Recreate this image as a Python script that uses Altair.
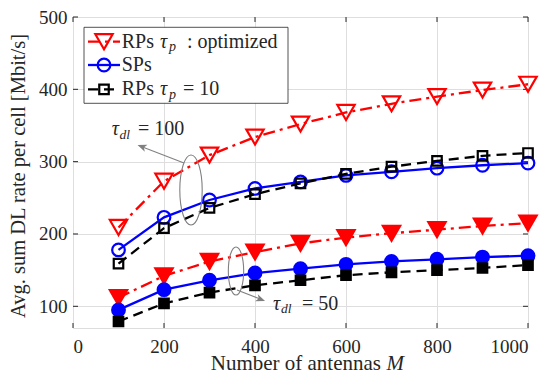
import altair as alt
import pandas as pd

# ---------------- data ----------------
M = [100, 200, 300, 400, 500, 600, 700, 800, 900, 1000]
rp_opt_100 = [209, 273, 309, 334, 352, 368, 380, 390, 399, 407]
sp_100 = [178, 223, 247, 263, 272, 281, 286, 291, 295, 298]
rp10_100 = [159, 208, 236, 255, 270, 283, 293, 301, 308, 312]
rp_opt_50 = [112, 142, 162, 175, 187, 195, 201, 206, 211, 215]
sp_50 = [95, 123, 136, 146, 152, 158, 162, 165, 168, 170]
rp10_50 = [79, 104, 119, 129, 136, 143, 147, 150, 153, 157]

x_ticks = [0, 200, 400, 600, 800, 1000]
y_ticks = [100, 200, 300, 400, 500]

x_title = "Number of antennas"
x_title_var = "M"
y_title = "Avg. sum DL rate per cell [Mbit/s]"
leg_rp = "RPs"
leg_sp = "SPs"
leg_opt = ": optimized"
leg_10 = "= 10"
ann_100 = "= 100"
ann_50 = "= 50"

# ---------------- style ----------------
FONT = "Liberation Serif"
AX = "#262626"
GRAY = "#808080"
RED = "#ff0000"
BLUE = "#0000ff"
BLACK = "#000000"
W, H = 455, 311

x_scale = alt.Scale(domain=[0, 1000], nice=False)
y_scale = alt.Scale(domain=[70, 500], nice=False)
x_axis = alt.Axis(values=x_ticks, format="d", title=None, grid=True, ticks=False, tickSize=0,
                  domain=False, labelFont=FONT, labelFontSize=19, labelColor=AX, labelPadding=9,
                  gridColor="#dedede", gridWidth=1)
y_axis = alt.Axis(values=y_ticks, format="d", title=None, grid=True, ticks=False, tickSize=0,
                  domain=False, labelFont=FONT, labelFontSize=19, labelColor=AX, labelPadding=6,
                  gridColor="#dedede", gridWidth=1)

X = lambda f: alt.X(f, scale=x_scale, axis=x_axis)
Y = lambda f: alt.Y(f, scale=y_scale, axis=y_axis)

one = pd.DataFrame({"_": [0]})


def series(vals, color, dash, shape, filled, size):
    df = pd.DataFrame({"M": M, "v": vals})
    base = alt.Chart(df).encode(x=X("M:Q"), y=Y("v:Q"))
    lkw = dict(color=color, strokeWidth=2.3)
    if dash:
        lkw["strokeDash"] = dash
    line = base.mark_line(**lkw)
    pkw = dict(shape=shape, filled=filled, size=size, strokeWidth=2.2, opacity=1, stroke=color)
    if filled:
        pkw["fill"] = color
    pts = base.mark_point(**pkw)
    return [line, pts]


DASHDOT = [12, 5, 3, 5]
DASH = [10, 6]

layers = []

# inward ticks on all four sides
ydf = pd.DataFrame({"t": y_ticks})
xdf = pd.DataFrame({"t": x_ticks})
layers.append(alt.Chart(ydf).mark_rule(color=AX, strokeWidth=1).encode(
    y=Y("t:Q"), x=alt.value(0), x2=alt.value(5)))
layers.append(alt.Chart(ydf).mark_rule(color=AX, strokeWidth=1).encode(
    y=Y("t:Q"), x=alt.value(W - 5), x2=alt.value(W)))
layers.append(alt.Chart(xdf).mark_rule(color=AX, strokeWidth=1).encode(
    x=X("t:Q"), y=alt.value(H - 5), y2=alt.value(H)))
layers.append(alt.Chart(xdf).mark_rule(color=AX, strokeWidth=1).encode(
    x=X("t:Q"), y=alt.value(0), y2=alt.value(5)))

# series
layers += series(rp_opt_100, RED, DASHDOT, "triangle-down", False, 300)
layers += series(sp_100, BLUE, None, "circle", False, 160)
layers += series(rp10_100, BLACK, DASH, "square", False, 90)
layers += series(rp_opt_50, RED, DASHDOT, "triangle-down", True, 300)
layers += series(sp_50, BLUE, None, "circle", True, 160)
layers += series(rp10_50, BLACK, DASH, "square", True, 90)

# ellipses
ELL = "M -0.32 0 A 0.32 1 0 1 1 0.32 0 A 0.32 1 0 1 1 -0.32 0 Z"
ARW = "M 0 -1 L 0.75 0.85 L 0 0.35 L -0.75 0.85 Z"
layers.append(alt.Chart(one).mark_point(shape=ELL, size=4900, stroke=GRAY, strokeWidth=1.1,
                                        filled=False, opacity=1).encode(
    x=alt.value(118), y=alt.value(173)))
layers.append(alt.Chart(one).mark_point(shape=ELL, size=2304, stroke=GRAY, strokeWidth=1.1,
                                        filled=False, opacity=1).encode(
    x=alt.value(163), y=alt.value(254)))
# arrows
layers.append(alt.Chart(one).mark_rule(color=GRAY, strokeWidth=1.1).encode(
    x=alt.value(111), y=alt.value(146), x2=alt.value(69.5), y2=alt.value(130)))
layers.append(alt.Chart(one).mark_point(shape=ARW, size=100, angle=291, filled=True,
                                        fill=GRAY, opacity=1).encode(
    x=alt.value(69.2), y=alt.value(129.8)))
layers.append(alt.Chart(one).mark_rule(color=GRAY, strokeWidth=1.1).encode(
    x=alt.value(164), y=alt.value(273), x2=alt.value(187), y2=alt.value(282)))
layers.append(alt.Chart(one).mark_point(shape=ARW, size=100, angle=111, filled=True,
                                        fill=GRAY, opacity=1).encode(
    x=alt.value(187.4), y=alt.value(282.2)))


def txt(text, x, y, size=18, style="normal", align="left", baseline="middle", color=AX, angle=0):
    kw = dict(text=text, font=FONT, fontSize=size, fontStyle=style, align=align,
              baseline=baseline, color=color)
    if angle:
        kw["angle"] = angle
    return alt.Chart(one).mark_text(**kw).encode(x=alt.value(x), y=alt.value(y))


# annotation texts
layers.append(txt("τ", 38.7, 112, 20, "italic"))
layers.append(txt("dl", 46.5, 118, 13.5, "italic"))
layers.append(txt(ann_100, 65, 112, 20))
layers.append(txt("τ", 200, 286.5, 20, "italic"))
layers.append(txt("dl", 208, 292, 13.5, "italic"))
layers.append(txt(ann_50, 229, 286.5, 20))

# legend
layers.append(alt.Chart(one).mark_rect(fill="white", stroke=AX, strokeWidth=0.8).encode(
    x=alt.value(11), x2=alt.value(215), y=alt.value(10.3), y2=alt.value(86.3)))
rows = [(24.7, RED, DASHDOT, "triangle-down", 300),
        (48, BLUE, None, "circle", 160),
        (72.3, BLACK, DASH, "square", 90)]
for yy, col, dash, shp, sz in rows:
    rkw = dict(color=col, strokeWidth=2.3)
    if dash:
        rkw["strokeDash"] = dash
    layers.append(alt.Chart(one).mark_rule(**rkw).encode(
        x=alt.value(15), x2=alt.value(47), y=alt.value(yy), y2=alt.value(yy)))
    layers.append(alt.Chart(one).mark_point(shape=shp, size=sz, filled=False, stroke=col,
                                            strokeWidth=2.2, opacity=1).encode(
        x=alt.value(31), y=alt.value(yy)))
layers.append(txt(leg_rp, 48.7, 24.7, 20))
layers.append(txt("τ", 87, 24.7, 20, "italic"))
layers.append(txt("p", 96, 30, 14, "italic"))
layers.append(txt(leg_opt, 114, 24.7, 20))
layers.append(txt(leg_sp, 48.7, 48, 20))
layers.append(txt(leg_rp, 48.7, 72.3, 20))
layers.append(txt("τ", 87, 72.3, 20, "italic"))
layers.append(txt("p", 96, 77.6, 14, "italic"))
layers.append(txt(leg_10, 110, 72.3, 20))

# axis titles
layers.append(txt(x_title, 308, 353, 21, align="right", baseline="alphabetic"))
layers.append(txt(x_title_var, 313.5, 353, 21, "italic", baseline="alphabetic"))
layers.append(txt(y_title, -48, 159, 20.5, align="center", baseline="alphabetic", angle=270))

chart = alt.layer(*layers).properties(
    width=W, height=H,
    autosize=alt.AutoSizeParams(type="none"),
    padding={"left": 65, "top": 9, "right": 15, "bottom": 45},
).configure_view(stroke=AX, strokeWidth=1).configure(background="white")

chart.save("out.html", embed_options={"renderer": "svg", "actions": False})
